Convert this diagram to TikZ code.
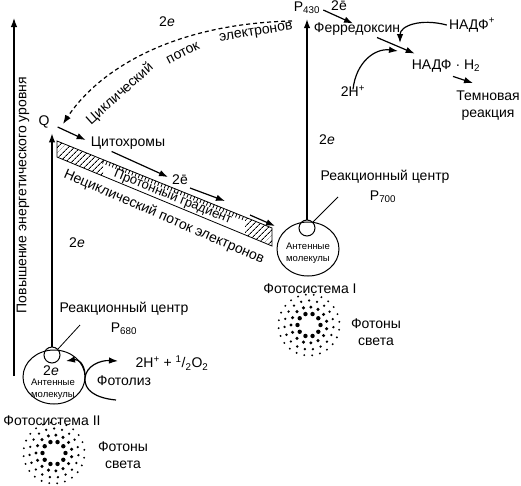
\documentclass[tikz,border=0pt]{standalone}
\usepackage{fontspec}
\setmainfont{Liberation Sans}
\usetikzlibrary{arrows.meta,shapes.geometric,patterns.meta,decorations.pathreplacing,calc}

\begin{document}
\begin{tikzpicture}[x=1pt,y=-1pt,>={Latex[length=9pt,width=6.5pt]},
  lbl/.style={font=\fontsize{14}{17}\selectfont,inner sep=0pt,align=center},
  tiny/.style={font=\fontsize{9.5}{12}\selectfont,inner sep=0pt,align=center},
  flow/.style={line width=1.2pt,->},
  thinline/.style={line width=0.8pt},
  rcentre/.style={shape=circle,draw=black,line width=1pt,minimum size=16pt,inner sep=0pt},
  antenna/.style={shape=ellipse,draw=black,line width=1pt,minimum width=62pt,minimum height=54pt,inner sep=0pt},
  hatch/.style={pattern={Lines[angle=45,distance=4pt,line width=0.9pt]}}]
\useasboundingbox (0,0) rectangle (521,485);

% energy axis
\draw[flow] (14,376) -- (14,18);
\node[lbl,rotate=90] (axis) at (23,195) {Повышение энергетического уровня};

% photosystem II
\node[antenna] (ant2) at (54,377) {};
\node[rcentre] (c680) at (52,355) {};
\node[lbl] (e2in) at (51,371) {2\textit{e}};
\node[tiny] (mol2) at (53,389) {Антенные\\молекулы};
\node[lbl] (rc2) at (124,309) {Реакционный центр};
\node[lbl] (p680) at (124,329) {P\textsubscript{680}};
\node[lbl] (ps2) at (52,421) {Фотосистема II};
\node[lbl] (ph2) at (123,455) {Фотоны\\света};
\node[lbl] (water) at (172,363) {2H\textsuperscript{+} + \textsuperscript{1}/\textsubscript{2}O\textsubscript{2}};
\node[lbl] (photolysis) at (124,381) {Фотолиз};
\coordinate (l680) at (80,325);
\draw[thinline] (c680.north east) -- (l680);

% photosystem I
\node[antenna] (ant1) at (308,249) {};
\node[rcentre] (c700) at (307,228) {};
\node[tiny] (mol1) at (308,253) {Антенные\\молекулы};
\node[lbl] (rc1) at (385,177) {Реакционный центр};
\node[lbl] (p700) at (383,197) {P\textsubscript{700}};
\node[lbl] (ps1) at (310,289) {Фотосистема I};
\node[lbl] (ph1) at (376,332) {Фотоны\\света};
\coordinate (l700) at (338,197);
\draw[thinline] (c700.north east) -- (l700);

% photons
\foreach \cx/\cy in {54/453,309/325} {
  \foreach \rr/\nn/\ss/\oo in {11.5/10/2.2/0,18/15/1.7/12,24.5/19/1.3/5,30.5/24/1.05/9} {
    \foreach \k in {1,...,\nn} {
      \fill ({\cx+\rr*cos(360*\k/\nn+\oo)},{\cy+\rr*sin(360*\k/\nn+\oo)}) circle (\ss);
    }
  }
}

% upper labels
\node[lbl] (Q) at (44,122) {Q};
\node[lbl] (cyt) at (128,143) {Цитохромы};
\node[lbl] (e2a) at (180,180) {2ē};
\node[lbl] (P430) at (307,8) {P\textsubscript{430}};
\node[lbl] (e2b) at (339,6) {2ē};
\node[lbl] (ferr) at (357,29) {Ферредоксин};
\node[lbl] (nadp) at (472,25) {НАДФ\textsuperscript{+}};
\node[lbl] (nadph) at (446,66) {НАДФ · H\textsubscript{2}};
\node[lbl] (hplus) at (353,91) {2H\textsuperscript{+}};
\node[lbl] (dark) at (488,106) {Темновая\\реакция};
\node[lbl] (e2c) at (167,22) {2\textit{e}};
\node[lbl] (e2psi) at (327,140) {2\textit{e}};
\node[lbl] (e2psii) at (77,243) {2\textit{e}};

% excitation
\draw[flow,shorten >=5pt] (c680.north) -- (c680.north |- Q.south);
\draw[flow,shorten >=5pt] (c700.north) -- (c700.north |- P430.south);

% proton gradient bar
\coordinate (barA) at (57,141);
\coordinate (barB) at (272,228);
\coordinate (barC) at (272,246);
\coordinate (barD) at (57,157);
\fill[hatch] (barA) -- ($(barA)!0.215!(barB)$) -- ($(barD)!0.215!(barC)$) -- (barD) -- cycle;
\fill[hatch] ($(barA)!0.875!(barB)$) -- (barB) -- (barC) -- ($(barD)!0.875!(barC)$) -- cycle;
\draw[thinline] (barA) -- (barB) -- (barC) -- (barD) -- cycle;
\draw[thinline,decorate,decoration={ticks,segment length=3.5pt,amplitude=2pt}]
  ($(barA)!0.215!(barB)+(0,2)$) -- ($(barA)!0.875!(barB)+(0,2)$);
\node[lbl,font=\fontsize{13}{15}\selectfont,rotate=-22] (grad) at (173,197) {Протонный градиент};
\node[lbl,rotate=-23.5] (noncyc) at (164,217) {Нециклический поток электронов};

% electron transport
\draw[flow] ([shift={(8,5)}]Q.east) -- ([shift={(-5,-3)}]cyt.west);
\draw[flow] ([shift={(21,2)}]cyt.south west) -- ([shift={(-4,-3)}]e2a.west);
\coordinate (s3) at (190,188);
\coordinate (t3) at (225,201);
\coordinate (s4) at (250,215);
\coordinate (t4) at (275,226);
\draw[flow] (s3) -- (t3);
\draw[flow] (s4) -- (t4);

% cyclic flow
\coordinate (cycstart) at (292,21);
\coordinate (cycend) at (63,124);
\draw[flow,dash pattern=on 4pt off 3pt] (cycstart) .. controls (165,24) and (95,75) .. (cycend);
\node[lbl,rotate=42] (cyc1) at (120,94) {Циклический};
\node[lbl,rotate=27] (cyc2) at (183,53) {поток};
\node[lbl,rotate=9] (cyc3) at (256,33) {электронов};

% ferredoxin, NADP
\draw[flow] ([shift={(3,2)}]P430.east) -- ([shift={(-4,1)}]ferr.north);
\draw[flow] ([shift={(20,2)}]ferr.south) -- ([shift={(3,-6)}]nadph.north west);
\coordinate (nadptip) at (400,43);
\draw[flow] ([xshift=-2pt]nadp.west) .. controls (420,18) and (400,26) .. (nadptip);
\coordinate (hptip) at (398,51);
\draw[flow] ([yshift=-4pt]hplus.north) .. controls (356,62) and (375,48) .. (hptip);
\draw[flow] ([shift={(7,4)}]nadph.south) -- ([shift={(-15,-8)}]dark.north);

% photolysis
\coordinate (fstart) at (116,400);
\coordinate (fmid) at (85,378);
\coordinate (ftip) at (118,361);
\coordinate (rctip) at (66,361);
\draw[flow] (fstart) .. controls (95,398) and (84,390) .. (fmid) .. controls (86,366) and (100,360) .. (ftip);
\draw[flow] (85,374) .. controls (84,363) and (78,359) .. (rctip);
\end{tikzpicture}
\end{document}
